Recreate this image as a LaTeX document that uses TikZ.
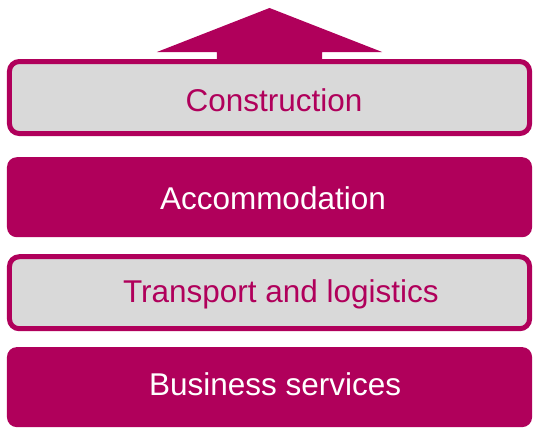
\documentclass[tikz,border=0pt]{standalone}
\usepackage{fontspec}
\setmainfont{Liberation Sans}
\usepackage{xcolor}
\usetikzlibrary{positioning}

\definecolor{brand}{HTML}{B0005B}
\definecolor{boxgray}{HTML}{D9D9D9}

\begin{document}
\begin{tikzpicture}[
		outlined/.style={rectangle, draw=brand, line width=1.32mm, fill=boxgray, rounded corners=2.6mm, inner sep=0pt, minimum width=137.6mm, minimum height=19.05mm},
		filled/.style={rectangle, fill=brand, rounded corners=2.6mm, inner sep=0pt, outer sep=0pt, minimum width=138.9mm, minimum height=21.17mm},
		mylabel/.style={inner sep=0pt, font=\fontsize{23.7}{28}\selectfont, text height=17pt, text depth=0pt},
		darktext/.style={mylabel, text=brand},
		lighttext/.style={mylabel, text=white}
	]

	\useasboundingbox (0,0) rectangle (141mm,-113.2mm);

	\node[outlined] (constr) at (71.3mm,-25.8mm) {};
	\node[filled, below=5.6mm of constr] (accom) {};
	\node[outlined, below=4.5mm of accom] (trans) {};
	\node[filled, below=4.2mm of trans] (busi) {};

	% labels, a little off centre as in the original
	\node[darktext, xshift=1.2mm, yshift=-0.8mm] (constrtext) at (constr) {Construction};
	\node[lighttext, xshift=0.9mm, yshift=-0.2mm] (accomtext) at (accom) {Accommodation};
	\node[darktext, xshift=3mm, yshift=0.5mm] (transtext) at (trans) {Transport and logistics};
	\node[lighttext, xshift=1.5mm, yshift=0.8mm] (busitext) at (busi) {Business services};

	% arrow on top
	\coordinate[above=13.5mm of constr.north] (tip);
	\fill[brand] ([xshift=-13.9mm, yshift=-0.6mm]constr.north) |- ([xshift=-29.8mm, yshift=1.85mm]constr.north) -- (tip)
		-- ([xshift=29.8mm, yshift=1.85mm]constr.north) -| ([xshift=13.9mm, yshift=-0.6mm]constr.north) -- cycle;

\end{tikzpicture}
\end{document}
